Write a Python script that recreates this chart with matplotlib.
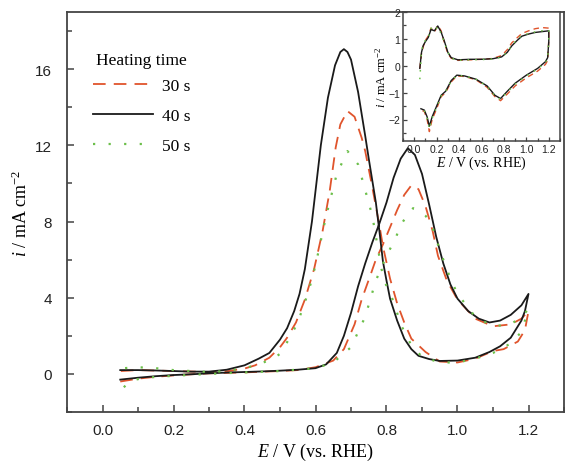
import numpy as np
import matplotlib
matplotlib.use("Agg")
import matplotlib.pyplot as plt
from matplotlib.ticker import MultipleLocator

# ---- main CV data (E in V vs RHE, i in mA cm-2) ----
# 40 s (black) forward / reverse scans
e40_f = [0.05, 0.1, 0.15, 0.2, 0.25, 0.3, 0.35, 0.4, 0.45, 0.5, 0.55, 0.6, 0.63, 0.66, 0.68, 0.7, 0.72, 0.74,
         0.76, 0.78, 0.8, 0.82, 0.84, 0.86, 0.88, 0.9, 0.92, 0.94, 0.96, 0.98, 1.0, 1.03, 1.06, 1.09, 1.12,
         1.15, 1.18, 1.2]
i40_f = [-0.3, -0.2, -0.12, -0.06, -0.02, 0.03, 0.07, 0.1, 0.13, 0.17, 0.22, 0.3, 0.5, 1.1, 2.0, 3.2, 4.6, 5.8,
         6.9, 7.9, 9.0, 10.3, 11.3, 11.85, 11.5, 10.5, 8.9, 7.2, 5.8, 4.7, 3.95, 3.3, 2.9, 2.7, 2.8,
         3.1, 3.6, 4.2]
e40_r = [1.2, 1.19, 1.18, 1.15, 1.12, 1.09, 1.05, 1.0, 0.95, 0.92, 0.89, 0.87, 0.85, 0.83, 0.81, 0.8, 0.79, 0.78,
         0.77, 0.75, 0.74, 0.72, 0.7, 0.69, 0.68, 0.67, 0.655, 0.635, 0.615, 0.59, 0.57, 0.555, 0.54, 0.52, 0.5,
         0.47, 0.44, 0.4, 0.35, 0.3, 0.25, 0.2, 0.15, 0.1, 0.05]
i40_r = [4.2, 3.3, 2.8, 1.9, 1.45, 1.15, 0.85, 0.7, 0.68, 0.78, 0.95, 1.3, 1.85, 2.8, 3.95, 4.9, 5.9, 7.5,
         9.0, 11.3, 12.5, 14.8, 16.5, 16.9, 17.05, 16.9, 16.2, 14.5, 12.0, 8.0, 5.5, 4.2, 3.3, 2.4, 1.8,
         1.1, 0.8, 0.45, 0.22, 0.12, 0.12, 0.15, 0.18, 0.2, 0.2]

# 30 s (red dashed)
e30_f = [0.05, 0.1, 0.15, 0.2, 0.25, 0.3, 0.4, 0.5, 0.55, 0.6, 0.65, 0.68, 0.71, 0.73, 0.755, 0.77, 0.79, 0.81,
         0.83, 0.85, 0.87, 0.89, 0.91, 0.93, 0.945, 0.97, 1.0, 1.05, 1.1, 1.15, 1.18, 1.2]
i30_f = [-0.4, -0.25, -0.15, -0.08, -0.02, 0.03, 0.08, 0.15, 0.2, 0.35, 0.7, 1.3, 2.6, 3.9, 5.2, 6.0, 6.8, 7.7,
         8.6, 9.4, 9.9, 9.7, 8.8, 7.5, 6.2, 4.9, 3.9, 2.9, 2.5, 2.6, 2.9, 3.3]
e30_r = [1.2, 1.19, 1.17, 1.13, 1.1, 1.05, 1.0, 0.95, 0.91, 0.87, 0.85, 0.83, 0.81, 0.79, 0.78, 0.76, 0.74, 0.73,
         0.71, 0.69, 0.67, 0.657, 0.64, 0.62, 0.596, 0.57, 0.545, 0.52, 0.5, 0.47, 0.43, 0.4, 0.35, 0.3, 0.2,
         0.1, 0.05]
i30_r = [3.3, 2.3, 1.7, 1.3, 1.2, 0.8, 0.6, 0.65, 1.15, 1.85, 2.7, 3.7, 5.0, 6.7, 7.8, 9.8, 11.7, 12.4,
         13.5, 13.8, 13.1, 11.9, 9.6, 7.5, 5.5, 3.9, 2.7, 1.9, 1.4, 0.85, 0.45, 0.28, 0.14, 0.1, 0.15,
         0.2, 0.15]

# 50 s (green dotted)
e50_f = [0.06, 0.08, 0.12, 0.2, 0.3, 0.4, 0.5, 0.6, 0.65, 0.7, 0.74, 0.77, 0.8, 0.825, 0.84, 0.86, 0.875, 0.89,
         0.91, 0.926, 0.95, 0.98, 1.0, 1.05, 1.1, 1.15, 1.18, 1.2]
i50_f = [-0.7, -0.35, -0.2, -0.1, 0.0, 0.08, 0.15, 0.3, 0.6, 1.4, 3.0, 4.9, 6.2, 7.1, 7.8, 8.4, 8.7, 8.6,
         8.3, 7.9, 6.5, 5.0, 4.2, 3.0, 2.5, 2.6, 3.0, 3.4]
e50_r = [1.2, 1.18, 1.15, 1.1, 1.05, 1.0, 0.95, 0.9, 0.87, 0.84, 0.82, 0.8, 0.786, 0.76, 0.72, 0.69, 0.66, 0.63,
         0.6, 0.58, 0.55, 0.526, 0.5, 0.48, 0.44, 0.4, 0.35, 0.3, 0.2, 0.15, 0.1, 0.06]
i50_r = [3.4, 2.2, 1.6, 1.1, 0.8, 0.6, 0.6, 0.9, 1.5, 2.6, 3.8, 4.6, 5.5, 8.3, 11.0, 11.7, 10.5, 8.3,
         5.7, 4.3, 2.7, 1.85, 1.05, 0.8, 0.5, 0.3, 0.15, 0.1, 0.2, 0.3, 0.35, 0.3]

# ---- inset CV (blank electrolyte) ----
ein = [0.05, 0.065, 0.08, 0.1, 0.125, 0.15, 0.18, 0.21, 0.24, 0.27, 0.3, 0.33, 0.39, 0.5, 0.6, 0.7, 0.78, 0.83,
       0.87, 0.92, 0.96, 1.02, 1.08, 1.14, 1.2, 1.2, 1.19, 1.17, 1.1, 1.0, 0.9, 0.83, 0.77, 0.72, 0.65, 0.55,
       0.45, 0.38, 0.33, 0.28, 0.24, 0.2, 0.16, 0.135, 0.115, 0.09, 0.06]
iin40 = [-0.1, 0.5, 0.75, 0.9, 1.05, 1.35, 1.3, 1.48, 1.25, 0.9, 0.5, 0.3, 0.22, 0.24, 0.24, 0.26, 0.33, 0.5,
         0.74, 0.95, 1.1, 1.18, 1.24, 1.27, 1.3, 0.9, 0.3, 0.15, -0.1, -0.35, -0.65, -0.95, -1.22, -1.1, -0.75, -0.5,
         -0.38, -0.35, -0.55, -0.95, -1.1, -1.5, -1.9, -2.25, -1.9, -1.65, -1.6]
iin30 = [-0.1, 0.45, 0.7, 0.95, 1.1, 1.4, 1.25, 1.5, 1.3, 0.85, 0.45, 0.28, 0.2, 0.22, 0.24, 0.27, 0.38, 0.6,
         0.85, 1.05, 1.2, 1.3, 1.38, 1.42, 1.4, 0.95, 0.2, 0.05, -0.2, -0.45, -0.75, -1.05, -1.3, -1.15, -0.8, -0.52,
         -0.4, -0.38, -0.6, -1.0, -1.15, -1.6, -2.0, -2.45, -2.0, -1.7, -1.65]
iin50 = [-0.5, 0.55, 0.8, 0.95, 1.0, 1.4, 1.3, 1.45, 1.2, 0.85, 0.5, 0.28, 0.2, 0.22, 0.23, 0.25, 0.32, 0.5,
         0.75, 1.0, 1.12, 1.2, 1.26, 1.3, 1.32, 0.9, 0.28, 0.12, -0.12, -0.38, -0.68, -0.98, -1.25, -1.12, -0.76, -0.5,
         -0.38, -0.36, -0.58, -0.95, -1.12, -1.55, -1.95, -2.35, -1.95, -1.68, -1.62]

labels = ["30 s", "40 s", "50 s"]
xtick_labels = ["0.0", "0.2", "0.4", "0.6", "0.8", "1.0", "1.2"]
red = "#e0542c"
green = "#6cbf4a"
black = "#1a1a1a"
spine_c = "#444444"

serif = ["Liberation Serif", "DejaVu Serif"]
plt.rcParams["font.family"] = ["Liberation Sans", "DejaVu Sans"]
plt.rcParams["mathtext.fontset"] = "custom"
plt.rcParams["mathtext.rm"] = "Liberation Serif"
plt.rcParams["mathtext.it"] = "Liberation Serif:italic"

fig = plt.figure(figsize=(5.66, 4.64), dpi=100)
ax = fig.add_axes([67 / 566, 51 / 464, (564 - 67) / 566, (413 - 13) / 464])

ax.plot(e30_f + e30_r, i30_f + i30_r, color=red, lw=1.3, ls=(0, (7, 4.5)), label=labels[0])
ax.plot(e40_f + e40_r, i40_f + i40_r, color=black, lw=1.3, label=labels[1])
ax.plot(e50_f + e50_r, i50_f + i50_r, color=green, lw=1.6, ls=(0, (1, 6)), label=labels[2])

ax.set_xlim(-0.1, 1.3)
ax.set_ylim(-2, 19)
ax.set_xticks(np.arange(0.0, 1.21, 0.2))
ax.set_xticklabels(xtick_labels)
ax.xaxis.set_minor_locator(MultipleLocator(0.1))
ax.yaxis.set_major_locator(MultipleLocator(4))
ax.yaxis.set_minor_locator(MultipleLocator(2))
ax.tick_params(which="both", direction="in", colors=spine_c, labelcolor="#222222", labelsize=11)
ax.tick_params(which="major", length=5, width=1.1)
ax.tick_params(which="minor", length=3.5, width=1.1)
ax.tick_params(axis="x", which="major", pad=8)
ax.tick_params(axis="y", which="major", pad=11)
for s in ax.spines.values():
    s.set_color(spine_c)
    s.set_linewidth(1.3)

ax.set_xlabel(r"$\mathit{E}$ / V (vs. RHE)", fontsize=13, family=serif, labelpad=3)
ax.set_ylabel(r"$\mathit{i}$ / mA cm$^{-2}$", fontsize=13, family=serif, labelpad=3)

leg = ax.legend(loc="upper left", bbox_to_anchor=(0.02, 0.938), frameon=False, title="Heating time",
                prop={"family": serif, "size": 12.5}, handlelength=3.5, labelspacing=0.8,
                handletextpad=0.5)
leg.get_title().set_fontfamily(serif)
leg.get_title().set_fontsize(12.5)
leg._legend_box.sep = 7

# inset
axi = fig.add_axes([403 / 566, (464 - 142) / 464, (560 - 403) / 566, (142 - 13) / 464])
axi.plot(ein, iin30, color=red, lw=1.0, ls=(0, (4, 3)))
axi.plot(ein, iin40, color=black, lw=1.0)
axi.plot(ein, iin50, color=green, lw=1.1, ls=(0, (1, 4)))
axi.set_xlim(-0.1, 1.3)
axi.set_ylim(-2.8, 2)
axi.set_xticks(np.arange(0.0, 1.21, 0.2))
axi.set_xticklabels(xtick_labels)
axi.xaxis.set_minor_locator(MultipleLocator(0.1))
axi.yaxis.set_major_locator(MultipleLocator(1))
axi.yaxis.set_minor_locator(MultipleLocator(0.5))
axi.tick_params(which="both", direction="in", colors=spine_c, labelcolor="#222222", labelsize=7.5, pad=2)
axi.tick_params(which="major", length=3, width=0.9)
axi.tick_params(which="minor", length=2, width=0.9)
for s in axi.spines.values():
    s.set_color(spine_c)
    s.set_linewidth(1.1)
axi.set_xlabel(r"$\mathit{E}$ / V (vs. RHE)", fontsize=10, family=serif, labelpad=0)
axi.set_ylabel(r"$\mathit{i}$ / mA cm$^{-2}$", fontsize=9, family=serif, labelpad=0)

fig.savefig("out.png", dpi=100)
